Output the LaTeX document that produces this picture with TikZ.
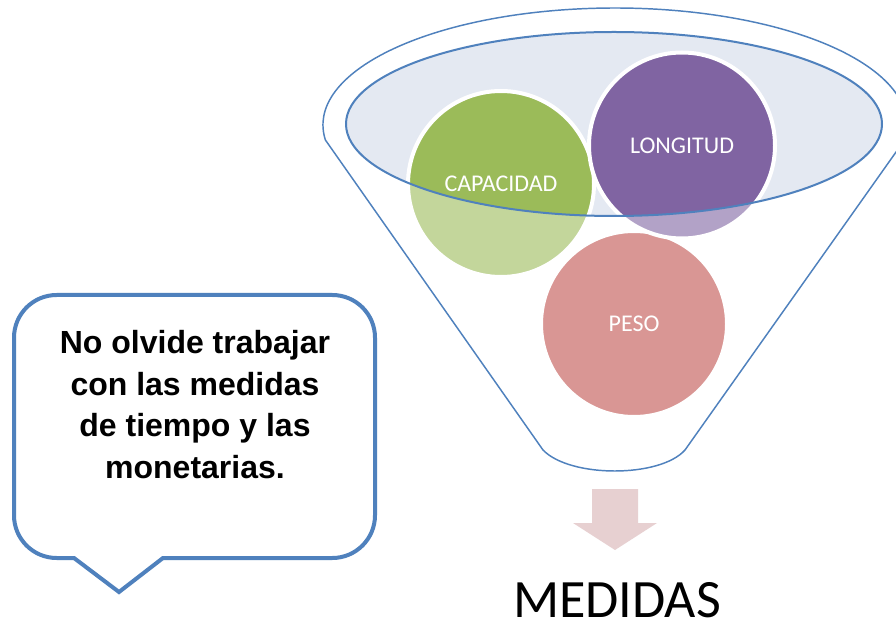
\documentclass[tikz,border=0pt]{standalone}
\usepackage{fontspec}
\usepackage{tikz}
\newfontfamily\ballfont{Carlito}
\newfontfamily\notefont{Liberation Sans}
\definecolor{FunnelBlue}{HTML}{4F81BD}
\definecolor{RimFill}{HTML}{E4E9F2}
\definecolor{GreenDark}{HTML}{9BBB59}
\definecolor{GreenLight}{HTML}{C3D69B}
\definecolor{PurpleDark}{HTML}{8064A2}
\definecolor{PurpleLight}{HTML}{B2A2C7}
\definecolor{PesoRed}{HTML}{D99694}
\definecolor{ArrowPink}{HTML}{E7D0D1}

\begin{document}
\begin{tikzpicture}[
  x=0.75pt,y=-0.75pt,
  ball/.style 2 args={circle,draw=white,line width=3pt,minimum size=139.5pt,inner sep=0pt,
    fill=#1,path picture={\fill[#2] (rim) ellipse[x radius=268,y radius=92];},
    text=white,font=\ballfont\fontsize{18}{21}\selectfont},
  funnel/.style={draw=FunnelBlue,line width=1.1pt},
  rimline/.style={draw=FunnelBlue,line width=1.5pt},
  bubble/.style={draw=FunnelBlue,line width=3pt,fill=white},
  notetext/.style={align=center,inner sep=0pt,font=\notefont\bfseries\fontsize{24}{31.25}\selectfont}
]
\useasboundingbox (0,0) rectangle (896,623);
\fill[white] (0,0) rectangle (896,623);
\clip (0,0) rectangle (896,623);

% funnel
\coordinate (rim) at (614,124);
\coordinate (botL) at (543,450);
\coordinate (botR) at (685,450);
\draw[funnel] (325.4,140) arc[start angle=172.63,end angle=367.37,x radius=292,y radius=117]
  -- (botR) .. controls (660,478) and (570,478) .. (botL) -- cycle;
\fill[RimFill] (rim) ellipse[x radius=268,y radius=92];

% balls
\node[ball={GreenLight}{GreenDark}] (cap) at (501,184) {CAPACIDAD};
\node[ball={PesoRed}{PesoRed}] (pes) at (634,324) {PESO};
\node[ball={PurpleLight}{PurpleDark}] (lon) at (682,145.5) {LONGITUD};
\draw[rimline] (rim) ellipse[x radius=268,y radius=92];

% result
\fill[ArrowPink] (592,489) -- (638,489) -- (638,523) -- (657,523) -- (615,550) -- (573,523) -- (592,523) -- cycle;
\node[anchor=base,inner sep=0pt,font=\ballfont\fontsize{40.5}{48}\selectfont] (medidas) at (617,617) {MEDIDAS};

% callout
\draw[bubble] (119,592) -- (74,558) [rounded corners=32pt] -- (14,558) -- (14,295) -- (375,295) -- (375,558)
  [sharp corners] -- (163,558) -- cycle;
\node[notetext,anchor=north] (note) at (195,330) {No olvide trabajar\\con las medidas\\de tiempo y las\\monetarias.};
\end{tikzpicture}
\end{document}
